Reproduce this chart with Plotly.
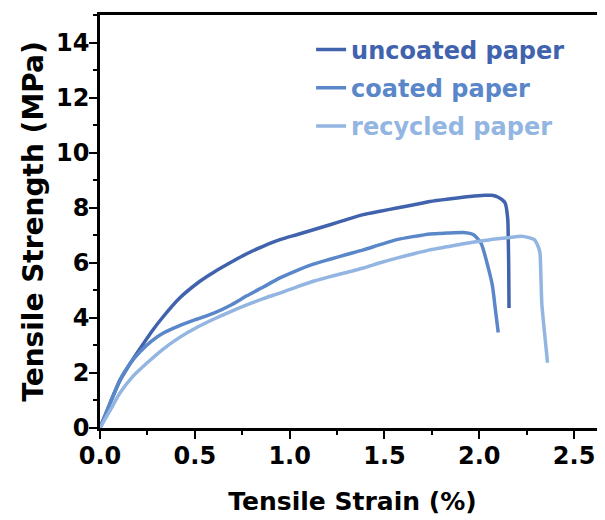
import plotly.graph_objects as go

# ---- data ----
uncoated_strain = [0, 0.05, 0.105, 0.16, 0.211, 0.27, 0.334, 0.42, 0.527, 0.598, 0.686, 0.774, 0.86,
                   0.949, 1.037, 1.125, 1.213, 1.3, 1.389, 1.477, 1.565, 1.65, 1.74, 1.85, 1.95, 2.03,
                   2.065, 2.10, 2.136, 2.15, 2.153, 2.155, 2.157]
uncoated_stress = [0, 0.85, 1.72, 2.35, 2.88, 3.48, 4.05, 4.72, 5.33, 5.65, 6.0, 6.33, 6.6,
                   6.84, 7.02, 7.2, 7.38, 7.57, 7.75, 7.87, 7.99, 8.1, 8.23, 8.33, 8.41, 8.45,
                   8.45, 8.38, 8.18, 7.6, 6.8, 6.0, 4.36]

coated_strain = [0, 0.05, 0.105, 0.16, 0.211, 0.27, 0.334, 0.42, 0.51, 0.6, 0.686, 0.774, 0.861,
                 0.949, 1.037, 1.125, 1.213, 1.3, 1.389, 1.477, 1.565, 1.65, 1.74, 1.83, 1.916,
                 1.97, 2.01, 2.05, 2.07, 2.085, 2.10]
coated_stress = [0, 0.85, 1.75, 2.35, 2.77, 3.15, 3.45, 3.72, 3.95, 4.17, 4.45, 4.8, 5.12,
                 5.45, 5.72, 5.95, 6.13, 6.3, 6.47, 6.66, 6.84, 6.95, 7.05, 7.08, 7.1,
                 7.02, 6.7, 5.75, 5.14, 4.3, 3.47]

recycled_strain = [0, 0.05, 0.105, 0.17, 0.246, 0.33, 0.422, 0.51, 0.598, 0.686, 0.774, 0.861,
                   0.949, 1.037, 1.125, 1.213, 1.3, 1.389, 1.477, 1.565, 1.65, 1.74, 1.83, 1.916,
                   2.0, 2.057, 2.14, 2.23, 2.29, 2.31, 2.32, 2.325, 2.33, 2.345, 2.36]
recycled_stress = [0, 0.6, 1.27, 1.85, 2.35, 2.85, 3.3, 3.65, 3.95, 4.22, 4.47, 4.7,
                   4.9, 5.12, 5.33, 5.5, 5.65, 5.81, 6.0, 6.17, 6.32, 6.47, 6.58, 6.69,
                   6.78, 6.84, 6.9, 6.96, 6.84, 6.6, 6.36, 5.5, 4.5, 3.4, 2.37]

series_names = ["uncoated paper", "coated paper", "recycled paper"]
series_colors = ["#4163AE", "#5A87C9", "#93B5E1"]

x_ticks = [0.0, 0.5, 1.0, 1.5, 2.0, 2.5]
x_ticktext = ["0.0", "0.5", "1.0", "1.5", "2.0", "2.5"]
y_ticks = [0, 2, 4, 6, 8, 10, 12, 14]

FONT = "DejaVu Sans"

fig = go.Figure()
for i, (xs, ys) in enumerate([(uncoated_strain, uncoated_stress),
                              (coated_strain, coated_stress),
                              (recycled_strain, recycled_stress)]):
    fig.add_trace(go.Scatter(
        x=xs, y=ys, mode="lines",
        name=f'<span style="color:{series_colors[i]}">{series_names[i]}</span>',
        line=dict(color=series_colors[i], width=3.5, shape="spline", smoothing=0.6),
        legendgroup=f"g{i}",
    ))

axis_common = dict(
    showline=True, linecolor="black", linewidth=2.5,
    ticks="outside", tickcolor="black", tickwidth=2, ticklen=8,
    showgrid=False, zeroline=False, automargin=False,
    tickfont=dict(family=FONT, size=24, color="black", weight="bold"),
)

# The page body has an 8px default margin, so margins are offset to compensate.
fig.update_layout(
    width=605, height=520,
    margin=dict(l=92, r=8, t=7, b=100),
    plot_bgcolor="white", paper_bgcolor="white",
    showlegend=True,
    legend=dict(
        x=0.418, y=0.97, xanchor="left", yanchor="top",
        bgcolor="rgba(0,0,0,0)",
        font=dict(family=FONT, size=24, weight="bold"),
        tracegroupgap=4,
    ),
    xaxis=dict(
        range=[0, 2.663], tickvals=x_ticks, ticktext=x_ticktext,
        mirror=True, ticklabelstandoff=-4,
        minor=dict(dtick=0.25, tick0=0, ticks="outside", ticklen=4, tickwidth=2, tickcolor="black"),
        title=dict(text="Tensile Strain (%)", standoff=24,
                   font=dict(family=FONT, size=25, color="black", weight="bold")),
        **axis_common,
    ),
    yaxis=dict(
        range=[0, 15], tickvals=y_ticks, ticklabelstandoff=-5,
        minor=dict(dtick=1, tick0=0, ticks="outside", ticklen=4, tickwidth=2, tickcolor="black"),
        title=dict(text="Tensile Strength (MPa)", standoff=5,
                   font=dict(family=FONT, size=28, color="black", weight="bold")),
        **axis_common,
    ),
)

fig.write_html("out.html")
